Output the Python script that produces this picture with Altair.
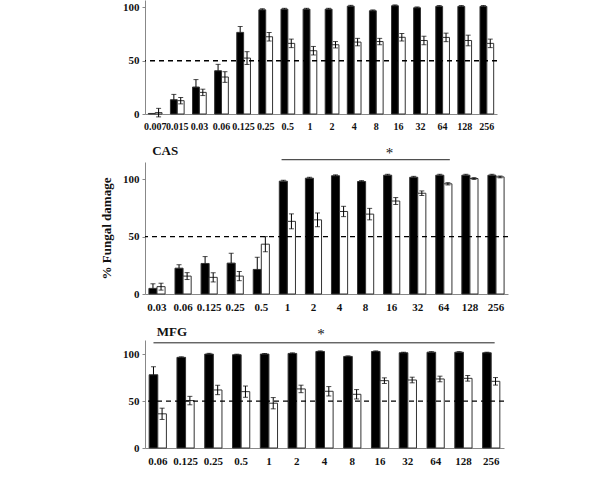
import altair as alt
import pandas as pd

# ---------------- data ----------------
top_conc = ["0.007", "0.015", "0.03", "0.06", "0.125", "0.25", "0.5", "1", "2", "4",
            "8", "16", "32", "64", "128", "256"]
top_black = [0.5, 13.4, 25.3, 40.6, 76.6, 97.8, 98.4, 98.4, 98.4, 101.2, 96.9, 101.6, 99.7, 101.0, 101.0, 101.0]
top_black_err = [0, 5, 7, 6, 5.5, 1, 0.8, 0.8, 0.8, 0.8, 0.8, 0.8, 0.8, 0.8, 0.8, 0.8]
top_white = [1.3, 12.5, 20.3, 34.7, 52.5, 72.5, 66.3, 59.4, 65.0, 67.5, 68.0, 72.0, 69.0, 71.9, 69.0, 66.3]
top_white_err = [4, 3, 3, 5, 6, 4, 4, 4, 3, 3.5, 3, 3.5, 4, 4, 5, 4]

cas_conc = ["0.03", "0.06", "0.125", "0.25", "0.5", "1", "2", "4", "8", "16", "32", "64", "128", "256"]
cas_black = [4.9, 22.5, 26.6, 26.9, 21.4, 98.3, 100.9, 103.0, 98.0, 103.5, 101.7, 103.5, 103.5, 103.5]
cas_black_err = [4, 3, 6, 8.6, 10.6, 0.8, 0.8, 0.8, 0.8, 0.8, 0.8, 0.8, 0.8, 0.8]
cas_white = [6.4, 15.6, 14.5, 15.6, 43.4, 63.3, 64.6, 71.9, 69.6, 81.0, 87.8, 96.0, 100.6, 102.0]
cas_white_err = [3, 3, 4, 4, 6.6, 6.5, 6, 4.5, 5, 3, 2, 1, 0.8, 0.8]

mfg_conc = ["0.06", "0.125", "0.25", "0.5", "1", "2", "4", "8", "16", "32", "64", "128", "256"]
mfg_black = [78.0, 96.5, 100.0, 99.3, 100.0, 100.7, 102.8, 97.5, 102.8, 101.4, 102.0, 102.0, 101.4]
mfg_black_err = [8.5, 0.6, 0.8, 0.6, 0.6, 0.6, 0.6, 0.6, 0.6, 0.6, 0.6, 0.6, 0.6]
mfg_white = [36.4, 50.5, 61.8, 60.0, 47.7, 62.9, 60.4, 57.2, 71.7, 72.4, 73.5, 74.2, 71.0]
mfg_white_err = [6, 4.5, 5, 6, 6, 4, 5, 5, 3, 3, 3, 3, 4]

y_ticks = [0, 25, 50, 75, 100]
FONT = "Liberation Serif"


def panel(conc, black, black_err, white, white_err, width, height, ymax,
          label=None, label_pos=None, sig=None, ytitle=None, xfs=11):
    rows, caps = [], []
    for c, b, be, w, we in zip(conc, black, black_err, white, white_err):
        rows.append({"conc": c, "series": "A", "value": b, "lo": b, "hi": b + be})
        rows.append({"conc": c, "series": "B", "value": w, "lo": w - we, "hi": w + we})
        if be > 0:
            caps.append({"conc": c, "series": "A", "yv": b + be})
        caps.append({"conc": c, "series": "B", "yv": w + we})
        caps.append({"conc": c, "series": "B", "yv": w - we})
    df = pd.DataFrame(rows)
    cdf = pd.DataFrame(caps)

    xscale = alt.Scale(domain=conc, paddingInner=0.38, paddingOuter=0.15)
    xaxis = alt.Axis(title=None, labelAngle=0, labelFont=FONT, labelFontWeight="bold",
                     labelFontSize=xfs, labelColor="#111", domainColor="#888",
                     ticks=False, labelPadding=7, labelOverlap=False, labelBound=False)
    yaxis = alt.Axis(values=y_ticks, title=ytitle if ytitle else None, labelFont=FONT,
                     labelFontWeight="bold", labelFontSize=11, labelColor="#111",
                     domainColor="#888", tickColor="#888", tickSize=3, grid=False,
                     labelPadding=3, titleFont=FONT, titleFontWeight="bold",
                     titleFontSize=13, titleColor="#111", titlePadding=9)
    yscale = alt.Scale(domain=[0, ymax], nice=False)
    xo = alt.XOffset("series:N", scale=alt.Scale(domain=["A", "B"], paddingInner=0, paddingOuter=0))

    base = alt.Chart(df)
    bars = base.mark_bar(stroke="#333", strokeWidth=1).encode(
        x=alt.X("conc:N", scale=xscale, axis=xaxis),
        xOffset=xo,
        y=alt.Y("value:Q", scale=yscale, axis=yaxis),
        fill=alt.Fill("series:N", scale=alt.Scale(domain=["A", "B"], range=["#000000", "#ffffff"]), legend=None),
    )
    err = base.mark_rule(color="#000", strokeWidth=1).encode(
        x=alt.X("conc:N"), xOffset=xo, y="lo:Q", y2="hi:Q")
    capm = alt.Chart(cdf).mark_tick(color="#000", thickness=1, size=5).encode(
        x=alt.X("conc:N"), xOffset=xo, y="yv:Q")
    dash = alt.Chart(pd.DataFrame({"v": [50]})).mark_rule(
        color="#000", strokeDash=[5, 4], strokeWidth=1.3).encode(y="v:Q")
    layers = [bars, err, capm, dash]

    if sig is not None:
        s0, b0, s1, b1, yline, sc, bsc, ystar = sig
        sdf = pd.DataFrame({"start": [s0], "end": [s1], "y": [yline]})
        layers.append(alt.Chart(sdf).mark_rule(color="#222", strokeWidth=1).encode(
            x=alt.X("start:N", bandPosition=b0), x2=alt.X2("end:N", bandPosition=b1), y="y:Q"))
        tdf = pd.DataFrame({"c": [sc], "y": [ystar], "t": ["*"]})
        layers.append(alt.Chart(tdf).mark_text(font=FONT, fontSize=15, color="#111",
                                               baseline="alphabetic").encode(
            x=alt.X("c:N", bandPosition=bsc), y="y:Q", text="t:N"))
    if label is not None:
        lc, lb, ly = label_pos
        ldf = pd.DataFrame({"c": [lc], "y": [ly], "t": [label]})
        layers.append(alt.Chart(ldf).mark_text(font=FONT, fontSize=13, fontWeight="bold",
                                               color="#111", align="left",
                                               baseline="alphabetic").encode(
            x=alt.X("c:N", bandPosition=lb), y="y:Q", text="t:N"))

    return alt.layer(*layers).properties(width=width, height=height)


p1 = panel(top_conc, top_black, top_black_err, top_white, top_white_err,
           352, 114, 107, xfs=10)
p2 = panel(cas_conc, cas_black, cas_black_err, cas_white, cas_white_err,
           363, 132, 115, label="CAS", label_pos=("0.03", 0.2, 121),
           sig=("1", 0.14, "64", 0.87, 117, "16", 0.37, 118.5),
           ytitle="% Fungal damage")
p3 = panel(mfg_conc, mfg_black, mfg_black_err, mfg_white, mfg_white_err,
           359, 108, 115, label="MFG", label_pos=("0.06", 0.44, 119),
           sig=("0.06", 0.25, "256", 0.7, 112, "4", 0.3, 116.3))

chart = alt.vconcat(p1, p2, p3, spacing=14).resolve_scale(
    x="independent", y="independent", xOffset="independent"
).properties(
    padding={"left": 100, "top": 0, "right": 5, "bottom": 5},
    background="white",
).configure_view(stroke=None)

chart.save("out.html", embed_options={"renderer": "svg", "actions": False})
